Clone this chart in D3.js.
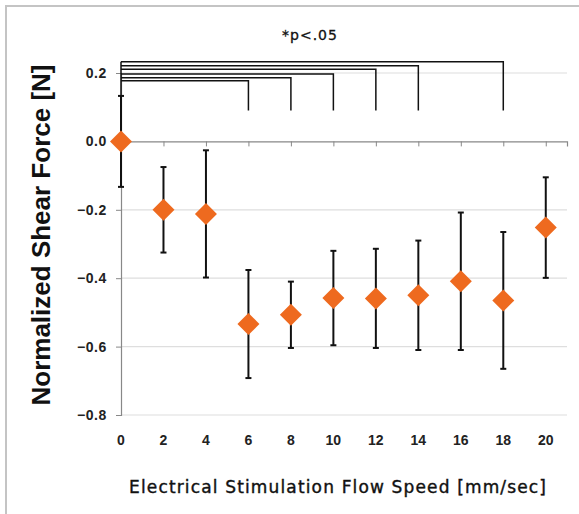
<!DOCTYPE html>
<meta charset="utf-8">
<style>
  body { margin: 0; background: #fff; }
</style>
<script src="https://d3js.org/d3.v7.min.js"></script>
<div id="chart"></div>
<script>
    // flow speeds (mm/sec), mean normalized shear force and error (SD)
    const speeds = [0, 2, 4, 6, 8, 10, 12, 14, 16, 18, 20];
    const means  = [0.0, -0.200, -0.212, -0.534, -0.507, -0.458, -0.459, -0.450, -0.409, -0.465, -0.252];
    const errors = [0.133, 0.125, 0.186, 0.158, 0.097, 0.138, 0.145, 0.160, 0.201, 0.200, 0.147];
    const yTicks = [0.2, 0.0, -0.2, -0.4, -0.6, -0.8];
    // significance brackets: 0 vs target, top level of each bracket
    const sigTargets = [6, 8, 10, 12, 14, 18];
    const sigTops    = [0.177, 0.186, 0.197, 0.211, 0.221, 0.233];
    const sigBottom  = 0.09;

    const sans = "'Liberation Sans', Arial, sans-serif";
    const gothic = "'DejaVu Sans', sans-serif";

    const W = 579, H = 514;
    const svg = d3.select("#chart").append("svg")
        .attr("width", W).attr("height", H);

    // outer frame (runs off the right and bottom)
    svg.append("rect")
        .attr("x", 6).attr("y", 6)
        .attr("width", W + 10).attr("height", H + 10)
        .attr("fill", "none").attr("stroke", "#c4c4c4").attr("stroke-width", 2);

    const x = d3.scaleLinear().domain([0, 21]).range([121, 567]);
    const y = d3.scaleLinear().domain([-0.8, 0.2]).range([415, 73]);

    // gridlines
    svg.append("g").selectAll("line")
        .data(yTicks.filter(d => d !== 0))
        .enter().append("line")
        .attr("x1", x(0)).attr("x2", x(21))
        .attr("y1", d => y(d)).attr("y2", d => y(d))
        .attr("stroke", "#dedede").attr("stroke-width", 1.2);

    // y axis
    const yAxis = svg.append("g")
        .attr("transform", "translate(" + x(0) + ",0)")
        .call(d3.axisLeft(y).tickValues(yTicks).tickFormat(d3.format(".1f")).tickSize(5).tickPadding(9));
    yAxis.select(".domain").attr("stroke", "#888").attr("stroke-width", 1.2);
    yAxis.selectAll(".tick line").attr("stroke", "#888");
    yAxis.selectAll("text")
        .attr("font-family", sans)
        .attr("font-size", "14px").attr("font-weight", "bold")
        .attr("letter-spacing", "0.6px")
        .attr("fill", "#222");

    // x axis line at y = 0 with ticks below
    const xAxis = svg.append("g")
        .attr("transform", "translate(0," + y(0) + ")")
        .call(d3.axisBottom(x).tickValues(speeds).tickSize(5).tickFormat(""));
    xAxis.select(".domain").attr("stroke", "#888").attr("stroke-width", 1.2);
    xAxis.selectAll(".tick line").attr("stroke", "#888");

    // x tick labels below the plot
    svg.append("g").selectAll("text")
        .data(speeds)
        .enter().append("text")
        .attr("x", d => x(d)).attr("y", 445)
        .attr("text-anchor", "middle")
        .attr("font-family", sans)
        .attr("font-size", "14px").attr("font-weight", "bold")
        .attr("fill", "#222")
        .text(d => d);

    // significance brackets
    const brackets = svg.append("g").attr("fill", "none").attr("stroke", "#111").attr("stroke-width", 1.5);
    brackets.append("line")
        .attr("x1", x(0)).attr("x2", x(0))
        .attr("y1", y(d3.max(sigTops))).attr("y2", y(0));
    brackets.selectAll("path")
        .data(sigTargets)
        .enter().append("path")
        .attr("d", (d, i) => "M" + x(0) + "," + y(sigTops[i]) + "H" + x(d) + "V" + y(sigBottom));

    svg.append("text")
        .attr("x", 310).attr("y", 40)
        .attr("text-anchor", "middle")
        .attr("font-family", gothic)
        .attr("font-size", "14px")
        .attr("letter-spacing", "1px")
        .attr("fill", "#111")
        .attr("stroke", "#111").attr("stroke-width", 0.3)
        .text("*p<.05");

    // error bars
    const eb = svg.append("g").attr("stroke", "#111").attr("stroke-width", 2);
    speeds.forEach((s, i) => {
        const lo = y(means[i] - errors[i]), hi = y(means[i] + errors[i]);
        eb.append("line").attr("x1", x(s)).attr("x2", x(s)).attr("y1", lo).attr("y2", hi);
        eb.append("line").attr("x1", x(s) - 3).attr("x2", x(s) + 3).attr("y1", lo).attr("y2", lo);
        eb.append("line").attr("x1", x(s) - 3).attr("x2", x(s) + 3).attr("y1", hi).attr("y2", hi);
    });

    // diamond markers
    svg.append("g").selectAll("path")
        .data(speeds)
        .enter().append("path")
        .attr("transform", (d, i) => "translate(" + x(d) + "," + y(means[i]) + ")")
        .attr("d", "M0,-11L11,0L0,11L-11,0Z")
        .attr("fill", "#ee6a1f");

    // axis titles
    svg.append("text")
        .attr("transform", "translate(50,235) rotate(-90)")
        .attr("text-anchor", "middle")
        .attr("font-family", sans)
        .attr("font-size", "26px").attr("font-weight", "bold")
        .attr("fill", "#111")
        .text("Normalized Shear Force [N]");

    svg.append("text")
        .attr("x", 129).attr("y", 493)
        .attr("textLength", 417).attr("lengthAdjust", "spacing")
        .attr("font-family", gothic)
        .attr("font-size", "17px")
        .attr("fill", "#111")
        .attr("stroke", "#111").attr("stroke-width", 0.4)
        .text("Electrical Stimulation Flow Speed [mm/sec]");
</script>
